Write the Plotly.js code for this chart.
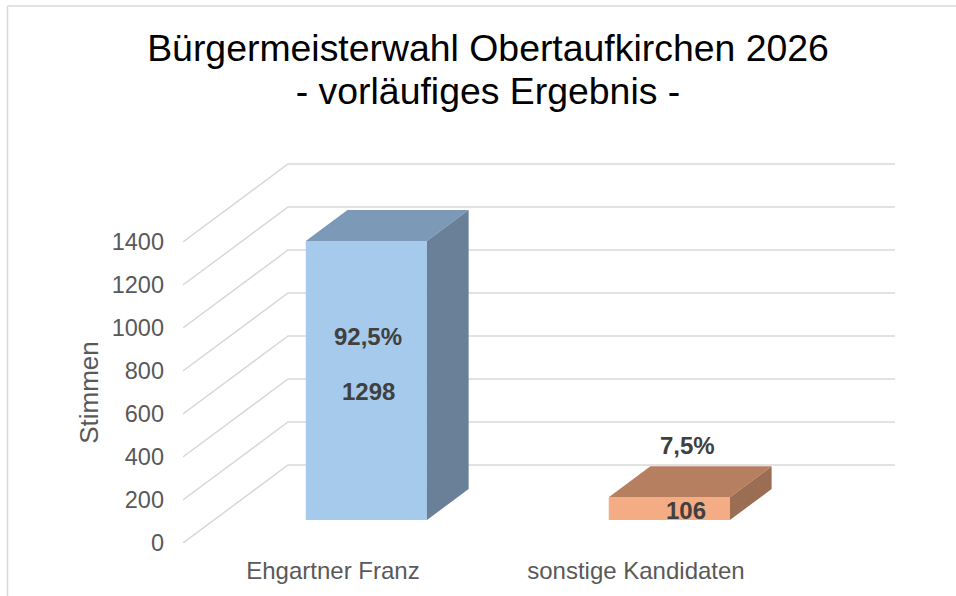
<!DOCTYPE html>
<html><head><meta charset="utf-8">
<script src="https://cdn.plot.ly/plotly-3.0.1.min.js"></script>
<style>html,body{margin:0;padding:0;background:#fff}#c{width:956px;height:596px}</style>
</head><body><div id="c"></div>
<script>
const categories = ["Ehgartner Franz", "sonstige Kandidaten"];
const votes = [1298, 106];
const shares = ["92,5%", "7,5%"];
const gridValues = [0, 200, 400, 600, 800, 1000, 1200, 1400];
const frontColors = ["#a6caec", "#f4ac84"];
const topColors = ["#7c9ab7", "#b57f60"];
const sideColors = ["#6a7f98", "#9b6e54"];

// oblique projection of the chart's floor depth, in axis units
const DEPTH_X = 0.3465, DEPTH_Y = 362.8;
const BAR_FRONT = 0.295, BAR_BACK = 0.692, HALF = 0.2;
const XR = [-0.503, 1.847], YR = [0, 1828];
const px = (x, d) => x + d * DEPTH_X;
const py = (v, d) => v + d * DEPTH_Y;

const traces = [];
// carrier for the front value axis and the category axis
traces.push({type:"scatter", mode:"markers", x:gridValues.map(()=>XR[0]), y:gridValues, marker:{opacity:0, size:1}, hoverinfo:"skip", showlegend:false});
gridValues.forEach(v => {
  traces.push({type:"scatter", yaxis:"y2", mode:"lines", hoverinfo:"skip", showlegend:false,
    x:[XR[0], px(XR[0],1), XR[1]], y:[v, py(v,1), py(v,1)],
    line:{color:"#d9d9d9", width:1.5}});
});
traces.push({type:"bar", yaxis:"y3", x:categories.map((c,i)=>px(i,BAR_FRONT)), y:votes,
  base:votes.map(()=>py(0,BAR_FRONT)), width:HALF*2, marker:{color:frontColors, line:{width:0}},
  showlegend:false, hoverinfo:"skip"});
votes.forEach((v,i)=>{
  const l=i-HALF, r=i+HALF;
  traces.push({type:"scatter", yaxis:"y3", mode:"lines", fill:"toself", fillcolor:topColors[i], line:{width:0}, hoverinfo:"skip", showlegend:false,
    x:[px(l,BAR_FRONT),px(r,BAR_FRONT),px(r,BAR_BACK),px(l,BAR_BACK),px(l,BAR_FRONT)],
    y:[py(v,BAR_FRONT),py(v,BAR_FRONT),py(v,BAR_BACK),py(v,BAR_BACK),py(v,BAR_FRONT)]});
  traces.push({type:"scatter", yaxis:"y3", mode:"lines", fill:"toself", fillcolor:sideColors[i], line:{width:0}, hoverinfo:"skip", showlegend:false,
    x:[px(r,BAR_FRONT),px(r,BAR_BACK),px(r,BAR_BACK),px(r,BAR_FRONT),px(r,BAR_FRONT)],
    y:[py(0,BAR_FRONT),py(0,BAR_BACK),py(v,BAR_BACK),py(v,BAR_FRONT),py(0,BAR_FRONT)]});
});
const labelFont = {family:"Liberation Sans", size:24, color:"#404040"};
const labels = [
  {t:String(votes[0]), x:px(0,BAR_FRONT)+0.006, y:py(votes[0]*0.461,BAR_FRONT)},
  {t:shares[0], x:px(0,BAR_FRONT)+0.006, y:py(votes[0]*0.658,BAR_FRONT)},
  {t:String(votes[1]), x:px(1,BAR_FRONT)+0.055, y:py(votes[1]*0.40,BAR_FRONT)},
  {t:shares[1], x:px(1,BAR_FRONT)+0.06, y:py(votes[1]*3.25,BAR_FRONT)}
];
const H = 393, W = 712;
const tickFont = {family:"Liberation Sans", size:23.5, color:"#595959"};
const hidden = {range:YR, visible:false, domain:[0,1], anchor:"x"};
const layout = {
  width:956, height:596, margin:{l:183,r:61,t:150,b:53},
  paper_bgcolor:"#fff", plot_bgcolor:"rgba(0,0,0,0)", showlegend:false,
  title:{text:"Bürgermeisterwahl Obertaufkirchen 2026<br>- vorläufiges Ergebnis -", font:{family:"Liberation Sans", size:37.4, color:"#000"},
    x:488/956, xref:"container", xanchor:"center", y:0.897, yref:"container", yanchor:"bottom"},
  xaxis:{range:XR, tickvals:[-0.008,0.992], ticktext:categories, showgrid:false, zeroline:false, showline:false,
    ticks:"", tickfont:{family:"Liberation Sans", size:24, color:"#595959"}, ticklabelstandoff:11},
  yaxis:{range:[0,1400], domain:[0,301/393], tickvals:gridValues, showgrid:false, zeroline:false, showline:false, ticks:"",
    tickfont:tickFont, ticklabelstandoff:18,
    title:{text:"Stimmen", font:{family:"Liberation Sans", size:26, color:"#595959"}, standoff:5}},
  yaxis2:hidden,
  yaxis3:hidden,
  shapes:[
    {type:"line", xref:"paper", yref:"paper", x0:(7.5-183)/W, x1:(7.5-183)/W, y0:(543-596)/H, y1:(543-6)/H, line:{color:"#d9d9d9",width:1.5}},
    {type:"line", xref:"paper", yref:"paper", x0:(7.5-183)/W, x1:(956-183)/W, y0:(543-6)/H, y1:(543-6)/H, line:{color:"#d9d9d9",width:1.5}}
  ],
  annotations:labels.map(a=>({text:"<b>"+a.t+"</b>", x:a.x, y:a.y, xref:"x", yref:"y2", showarrow:false, font:labelFont}))
};
Plotly.newPlot("c", traces, layout, {displayModeBar:false, staticPlot:true}).then(gd=>{
  // the reference sets the title lines closer than Plotly's fixed line height
  const lines = gd.querySelectorAll(".gtitle tspan.line");
  if (lines[1]) lines[1].setAttribute("dy", "1.135em");
});
</script></body></html>
